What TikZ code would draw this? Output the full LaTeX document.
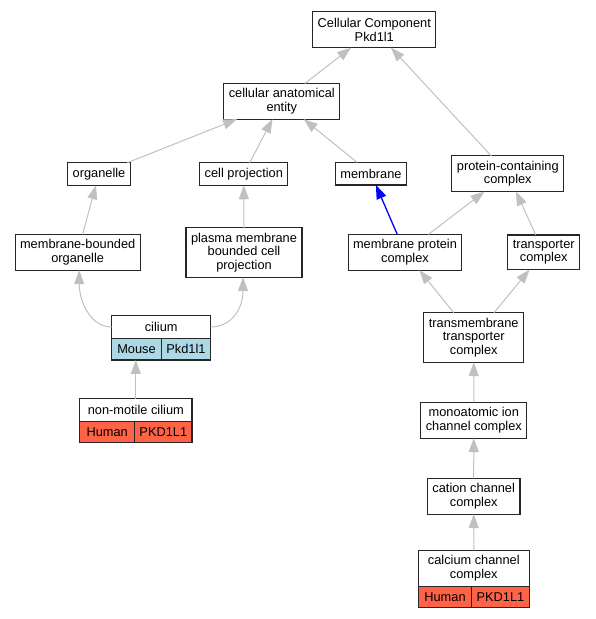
\documentclass[tikz,border=0pt]{standalone}
\usepackage{fontspec}
\setmainfont{Liberation Sans}
\usetikzlibrary{arrows.meta}
\definecolor{edgegrey}{HTML}{C0C0C0}
\definecolor{mouseblue}{HTML}{ADD8E6}
\definecolor{humanred}{HTML}{FF6347}
\tikzset{
  term/.style={draw=black!85, line width=1.1pt, fill=white, align=center, outer sep=0pt,
    inner xsep=5pt, inner ysep=5pt, minimum height=22.5pt,
    font=\fontsize{12.8}{13.7}\selectfont},
  cell/.style={term, minimum height=21.7pt, inner xsep=3pt, anchor=north west},
  isa/.style={draw=edgegrey, line width=1pt, -{Triangle[length=14pt,width=10pt]}},
}
\begin{document}
\begin{tikzpicture}[x=1pt,y=-1pt]
\useasboundingbox (0,0) rectangle (596,619);
\node [term, minimum height=36pt] (cc) at (374.3,29.7) {Cellular Component\\Pkd1l1};
\node [term] (cae) at (281.8,101.3) {cellular anatomical\\entity};
\node [term] (org) at (99,174) {organelle};
\node [term] (cellproj) at (243.8,174) {cell projection};
\node [term] (membrane) at (371,173.7) {membrane};
\node [term] (pcc) at (507.8,173.7) {protein-containing\\complex};
\node [term] (mbo) at (77.7,252.3) {membrane-bounded\\organelle};
\node [term] (pmbcp) at (244,252.5) {plasma membrane\\bounded cell\\projection};
\node [term] (mpc) at (405,252.3) {membrane protein\\complex};
\node [term] (tc) at (543.7,252.3) {transporter\\complex};
\node [term] (ttc) at (473.7,337.5) {transmembrane\\transporter\\complex};
\node [term] (mic) at (473.8,420.3) {monoatomic ion\\channel complex};
\node [term] (cation) at (473.7,496.3) {cation channel\\complex};
% annotated terms
\node [term, minimum width=99pt] (cilium) at (161.2,327) {cilium};
\node [cell, fill=mouseblue, minimum width=49.6pt] (ciliumsp) at (cilium.south west) {Mouse};
\node [cell, fill=mouseblue, minimum width=49.4pt] (ciliumgene) at (ciliumsp.north east) {Pkd1l1};
\node [term, minimum width=112.3pt] (nmc) at (135.8,409.9) {non-motile cilium};
\node [cell, fill=humanred, minimum width=55pt] (nmcsp) at (nmc.south west) {Human};
\node [cell, fill=humanred, minimum width=57.3pt] (nmcgene) at (nmcsp.north east) {PKD1L1};
\node [term, minimum width=111pt] (calcium) at (473.8,568.3) {calcium channel\\complex};
\node [cell, fill=humanred, minimum width=53.4pt] (calciumsp) at (calcium.south west) {Human};
\node [cell, fill=humanred, minimum width=57.6pt] (calciumgene) at (calciumsp.north east) {PKD1L1};
% is_a edges
\draw [isa] (cae) -- (cc);
\draw [isa] (pcc) -- (cc);
\draw [isa] (org) -- (cae);
\draw [isa] (cellproj) -- (cae);
\draw [isa] (membrane) -- (cae);
\draw [isa] (mbo) -- (org);
\draw [isa] (pmbcp) -- (cellproj);
\draw [isa, draw=blue, line width=1.3pt] (mpc) -- (membrane);
\draw [isa] (mpc) -- (pcc);
\draw [isa] (tc) -- (pcc);
\draw [isa] (ttc) -- (mpc);
\draw [isa] (ttc) -- (tc);
\draw [isa] (mic) -- (ttc);
\draw [isa] (cation) -- (mic);
\draw [isa] (calcium) -- (cation);
\draw [isa] (nmc) -- (nmc |- ciliumsp.south);
\draw [isa] (cilium.west) .. controls +(-22,0) and +(0,30) .. ([xshift=1.5pt]mbo.south);
\draw [isa] (cilium.east) .. controls +(22,0) and +(0,30) .. ([xshift=-1pt]pmbcp.south);
\end{tikzpicture}
\end{document}
